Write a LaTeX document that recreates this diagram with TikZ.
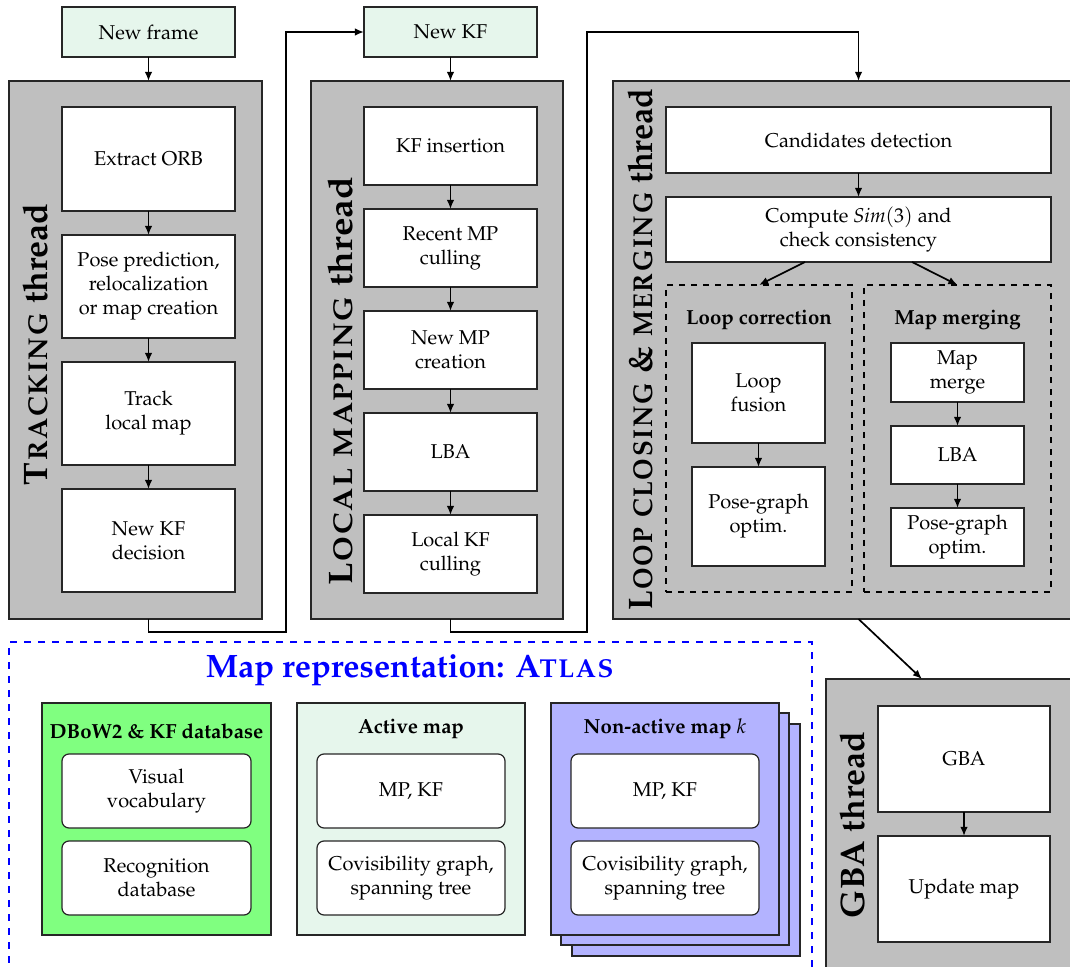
\documentclass[tikz,border=0pt]{standalone}
\usepackage[T1]{fontenc}
\usepackage{mathpazo}
\usetikzlibrary{calc,arrows.meta}

\definecolor{threadgray}{RGB}{191,191,191}
\definecolor{mint}{RGB}{230,246,236}
\definecolor{dbgreen}{RGB}{128,255,128}
\definecolor{lavender}{RGB}{179,179,255}
\definecolor{edge}{RGB}{38,38,38}

\newcommand\bodysize{\fontsize{10}{12}\selectfont}
\newcommand\bigsize{\fontsize{17}{20}\selectfont\bfseries}

\tikzset{
  % a rectangle given by its corners x1,y1,x2,y2 (in drawing units)
  corners/.style n args={4}{at={({(#1+#3)/2},{(#2+#4)/2})},
    minimum width={(#3-#1)*0.5pt}, minimum height={(#4-#2)*0.5pt},
    inner sep=0pt, outer sep=0pt},
  box/.style={draw=edge, line width=0.6pt, fill=white, align=center, font=\bodysize},
  thread/.style={draw=edge, line width=1pt, fill=threadgray},
  input/.style={box, fill=mint},
  rbox/.style={box, rounded corners=3.5pt},
  group/.style={draw=black, line width=0.55pt, dashed},
  store/.style={draw=edge, line width=0.7pt},
  threadlabel/.style={rotate=90, font=\bigsize, inner sep=0pt},
  grouptitle/.style={font=\fontsize{10.2}{12}\selectfont\bfseries, inner sep=0pt},
  flow/.style={line width=0.85pt, -{Latex[length=4.6pt,width=3.8pt]}},
}

\begin{document}
\begin{tikzpicture}[x=0.5pt,y=-0.5pt]
\useasboundingbox (0,0) rectangle (1070,967);
\clip (0,0) rectangle (1070,967);

% ---------------- Tracking thread ----------------
\node[thread, corners={9}{81}{262}{619}] (trk) {};
\node[threadlabel] (trklab) at (35,345) {\textsc{Tracking} thread};
\node[input, corners={62}{7}{235}{57}] (newframe) {New frame};
\node[box, corners={62}{107}{235}{211}] (orb) {Extract ORB};
\node[box, corners={62}{235}{235}{338}] (pose) {Pose prediction,\\ relocalization\\ or map creation};
\node[box, corners={62}{362}{235}{465}] (tlm) {Track\\ local map};
\node[box, corners={62}{489}{235}{592}] (kfdec) {New KF\\ decision};

% ---------------- Local mapping thread ----------------
\node[thread, corners={311}{81}{563}{619}] (lm) {};
\node[threadlabel, xscale=1.09] (lmlab) at (340,382) {\textsc{Local mapping} thread};
\node[input, corners={364}{7}{537}{57}] (newkf) {New KF};
\node[box, corners={364}{107}{537}{185}] (kfins) {KF insertion};
\node[box, corners={364}{209}{537}{287}] (mpcull) {Recent MP\\ culling};
\node[box, corners={364}{311}{537}{389}] (mpcre) {New MP\\ creation};
\node[box, corners={364}{413}{537}{491}] (lba) {LBA};
\node[box, corners={364}{515}{537}{593}] (kfcull) {Local KF\\ culling};

% ---------------- Loop closing & merging thread ----------------
\node[thread, corners={613}{81}{1076}{619}] (lc) {};
\node[threadlabel, xscale=0.95] (lclab) at (640,350) {\textsc{Loop closing \& merging} thread};
\node[box, corners={666}{107}{1051}{173}] (cand) {Candidates detection};
\node[box, corners={666}{197}{1051}{262}] (sim) {Compute $\mathit{Sim}(3)$ and\\ check consistency};
\node[group, corners={666}{285}{852}{592}] (loopcorr) {};
\node[group, corners={864}{285}{1051}{592}] (merging) {};
\node[grouptitle] (lctitle) at (759,320) {Loop correction};
\node[grouptitle] (mmtitle) at (957.5,320) {Map merging};
\node[box, corners={692}{343}{825}{443}] (fusion) {Loop\\ fusion};
\node[box, corners={692}{467}{825}{566}] (pg1) {Pose-graph\\ optim.};
\node[box, corners={891}{343}{1024}{402}] (mmerge) {Map\\ merge};
\node[box, corners={891}{426}{1024}{484}] (lba2) {LBA};
\node[box, corners={891}{508}{1024}{566}] (pg2) {Pose-graph\\ optim.};

% ---------------- GBA thread ----------------
\node[thread, corners={826}{679}{1076}{990}] (gbat) {};
\node[threadlabel] (gbalab) at (852,825) {GBA thread};
\node[box, corners={878}{706}{1050}{812}] (gba) {GBA};
\node[box, corners={878}{836}{1050}{942}] (upd) {Update map};

% ---------------- Atlas ----------------
\node[corners={9}{642}{812}{990}, draw=blue, line width=0.6pt,
      dash pattern=on 3.5pt off 3.5pt] (atlas) {};
\node[font=\fontsize{16.2}{19}\selectfont\bfseries, text=blue, inner sep=0pt] (atlastitle)
  at (410,670) {Map representation: \textsc{Atlas}};

\node[store, fill=dbgreen, corners={42}{703}{271}{935}] (db) {};
\node[grouptitle] (dbtitle) at (156.5,731) {DBoW2 \& KF database};
\node[rbox, corners={62}{754}{251}{828}] (vocab) {Visual\\ vocabulary};
\node[rbox, corners={62}{841}{251}{915}] (recog) {Recognition\\ database};

\node[store, fill=mint, corners={297}{703}{525}{935}] (active) {};
\node[grouptitle] (acttitle) at (411,729) {Active map};
\node[rbox, corners={317}{754}{505}{828}] (actmp) {MP, KF};
\node[rbox, corners={317}{841}{505}{915}] (actcov) {Covisibility graph,\\ spanning tree};

\node[store, fill=lavender, corners={572}{724}{800}{956}] (nonact3) {};
\node[store, fill=lavender, corners={561}{713}{789}{945}] (nonact2) {};
\node[store, fill=lavender, corners={551}{703}{779}{935}] (nonact) {};
\node[grouptitle] (natitle) at (665,729) {Non-active map $k$};
\node[rbox, corners={571}{754}{759}{828}] (namp) {MP, KF};
\node[rbox, corners={571}{841}{759}{915}] (nacov) {Covisibility graph,\\ spanning tree};

% ---------------- Connectors ----------------
\draw[flow] (newframe) -- (trk.north -| newframe);
\draw[flow] (orb) -- (pose);
\draw[flow] (pose) -- (tlm);
\draw[flow] (tlm) -- (kfdec);

\coordinate (t1) at ($(kfdec.south |- trk.south)+(0,13)$);
\coordinate (t2) at (286,632);
\draw[flow] (kfdec.south |- trk.south) -- (t1) -- (t2) |- (newkf.west);

\draw[flow] (newkf) -- (lm.north -| newkf);
\draw[flow] (kfins) -- (mpcull);
\draw[flow] (mpcull) -- (mpcre);
\draw[flow] (mpcre) -- (lba);
\draw[flow] (lba) -- (kfcull);

\coordinate (l1) at ($(kfcull.south |- lm.south)+(0,13)$);
\coordinate (l2) at (587,632);
\coordinate (l3) at (587,32);
\draw[flow] (kfcull.south |- lm.south) -- (l1) -- (l2) -- (l3) -| (lc.north -| cand);

\draw[flow] (cand) -- (sim);
\draw[flow] ($(sim.south west)!0.361!(sim.south east)$) -- (loopcorr.north);
\draw[flow] ($(sim.south west)!0.639!(sim.south east)$) -- (merging.north);
\draw[flow] (fusion) -- (pg1);
\draw[flow] (mmerge) -- (lba2);
\draw[flow] (lba2) -- (pg2);

\coordinate (g1) at (922,0);
\draw[flow] (lc.south -| cand) -- (gbat.north -| g1);
\draw[flow] (gba) -- (upd);
\end{tikzpicture}
\end{document}
